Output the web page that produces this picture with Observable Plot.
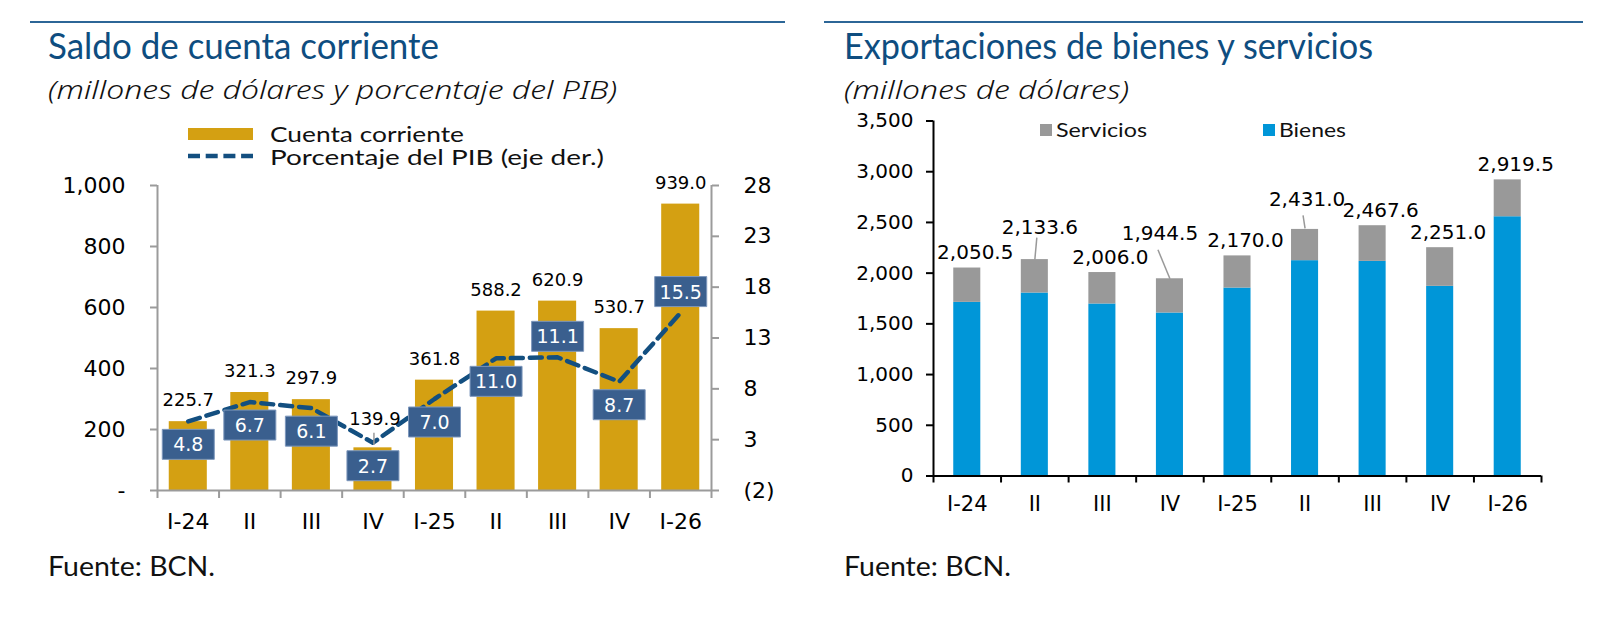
<!DOCTYPE html>
<html><head><meta charset="utf-8">
<script src="https://cdn.jsdelivr.net/npm/d3@7"></script>
<script src="https://cdn.jsdelivr.net/npm/@observablehq/plot@0.6"></script>
<style>
html,body{margin:0;padding:0;background:#fff;}
body{position:relative;width:1604px;height:636px;overflow:hidden;font-family:Lato,"Noto Sans",sans-serif;color:#111;}
.t{position:absolute;white-space:nowrap;line-height:1;transform-origin:0 0;}
.rule{position:absolute;height:2px;background:#2C6697;}
.chart{position:absolute;}
.sw{position:absolute;}
</style></head><body>
<script>
// ---------- data ----------
const quarters = ["I-24", "II", "III", "IV", "I-25", "II", "III", "IV", "I-26"];
const cuentaCorriente = [225.7, 321.3, 297.9, 139.9, 361.8, 588.2, 620.9, 530.7, 939.0];
const porcentajePIB = [4.8, 6.7, 6.1, 2.7, 7.0, 11.0, 11.1, 8.7, 15.5];
const exportTotal = [2050.5, 2133.6, 2006.0, 1944.5, 2170.0, 2431.0, 2467.6, 2251.0, 2919.5];
const exportBienes = [1712, 1804, 1696, 1607, 1853, 2123, 2116, 1870, 2556];
const exportServicios = [338.5, 329.6, 310.0, 337.5, 317.0, 308.0, 351.6, 381.0, 363.5];
const ccTicks = [0, 200, 400, 600, 800, 1000];
const pibTicks = [-2, 3, 8, 13, 18, 23, 28];
const expTicks = [0, 500, 1000, 1500, 2000, 2500, 3000, 3500];

// ---------- helpers ----------
const body = document.body;
function txt(s, o) {
  const d = document.createElement("div");
  d.className = "t"; d.textContent = s;
  const f = o.font || "Lato";
  const asc = f.startsWith("DejaVu") ? 0.846 : (f.startsWith("Noto") ? 0.93 : 0.887);
  Object.assign(d.style, {
    left: o.x + "px", top: (o.base - asc * o.size) + "px", fontSize: o.size + "px",
    fontFamily: f, color: o.color || "#111", fontStyle: o.italic ? "italic" : "normal",
    fontWeight: o.weight || 400
  });
  body.appendChild(d);
  if (o.w) { const w = d.getBoundingClientRect().width; d.style.transform = `scaleX(${o.w / w})`; }
  return d;
}
function rule(x1, x2, y) {
  const d = document.createElement("div"); d.className = "rule";
  Object.assign(d.style, {left: x1 + "px", width: (x2 - x1) + "px", top: y + "px"});
  body.appendChild(d);
}
function place(svg, x, y) { svg.classList.add("chart"); svg.style.left = x + "px"; svg.style.top = y + "px"; body.appendChild(svg); }

const gold = "#D4A012", lineBlue = "#134F80", boxBlue = "#3A5F8E", axisGray = "#9B9B9B";
const bienesBlue = "#0096D8", servGray = "#999999";
const titleBlue = "#0E4D80";

// ---------- left panel ----------
rule(30, 785, 21);
txt("Saldo de cuenta corriente", {x: 48, base: 58.5, size: 36, color: titleBlue, w: 391});
txt("(millones de dólares y porcentaje del PIB)", {x: 48, base: 100, size: 26, italic: true, font: "Noto Sans", weight: 300, w: 569});
{
  const r = document.createElement("div"); r.className = "sw";
  Object.assign(r.style, {left: "188px", top: "128px", width: "65px", height: "12px", background: gold});
  body.appendChild(r);
  const s = document.createElementNS("http://www.w3.org/2000/svg", "svg");
  s.setAttribute("width", 70); s.setAttribute("height", 10);
  Object.assign(s.style, {position: "absolute", left: "188px", top: "151px"});
  s.innerHTML = `<line x1="0" x2="65" y1="5" y2="5" stroke="${lineBlue}" stroke-width="4.5" stroke-dasharray="12,5.7"/>`;
  body.appendChild(s);
}
txt("Cuenta corriente", {x: 270, base: 141.5, size: 21, w: 194});
txt("Porcentaje del PIB (eje der.)", {x: 270, base: 164.5, size: 21, w: 334});
txt("Fuente: BCN.", {x: 48, base: 576.5, size: 26, w: 167});

const idx = d3.range(quarters.length);
const cc = idx.map(i => ({i, v: cuentaCorriente[i], p: porcentajePIB[i]}));
const toLeft = p => (p + 2) / 30 * 1000;
const fromLeft = v => Math.round(v / 1000 * 30 - 2);
const box = {draw(c) { c.moveTo(-26, -15); c.lineTo(26, -15); c.lineTo(26, 15); c.lineTo(-26, 15); c.closePath(); }};
const lead = (x1, y1, x2, y2) => ({draw(c) { c.moveTo(x1, y1); c.lineTo(x2, y2); }});
const above = new Set([6, 8]);
const xc = d => d.i + 0.5;

const leftChart = Plot.plot({
  width: 800, height: 390, marginLeft: 157, marginRight: 89, marginTop: 35, marginBottom: 50,
  x: {type: "linear", domain: [0, 9]},
  y: {domain: [0, 1000]},
  style: {fontFamily: "DejaVu Sans", fontSize: "22px", color: "#000", background: "transparent", overflow: "visible"},
  marks: [
    Plot.rectY(cc, {x1: d => d.i, x2: d => d.i + 1, y: "v", fill: gold, insetLeft: 11.75, insetRight: 11.75}),
    Plot.axisY({anchor: "left", label: null, ticks: ccTicks, tickSize: 7, tickPadding: 25, stroke: axisGray, strokeWidth: 2, fill: "#000", fontSize: 22,
      tickFormat: v => v === 0 ? "-" : d3.format(",")(v)}),
    Plot.axisY({anchor: "right", label: null, ticks: pibTicks.map(toLeft), tickSize: 7, tickPadding: 25, stroke: axisGray, strokeWidth: 2, fill: "#000", fontSize: 22,
      tickFormat: v => { const p = fromLeft(v); return p < 0 ? `(${-p})` : `${p}`; }}),
    Plot.axisX({label: null, ticks: d3.range(10), tickSize: 8, tickFormat: () => "", stroke: axisGray, strokeWidth: 2}),
    Plot.axisX({label: null, ticks: idx.map(i => i + 0.5), tickSize: 0, tickPadding: 23, fill: "#000", fontSize: 22, tickFormat: v => quarters[Math.floor(v)]}),
    Plot.ruleX([0, 9], {stroke: axisGray, strokeWidth: 2}),
    Plot.ruleY([0], {stroke: axisGray, strokeWidth: 2}),
    Plot.line(cc, {x: xc, y: d => toLeft(d.p), stroke: lineBlue, strokeWidth: 4.5, strokeDasharray: "12,7"}),
    Plot.dot(cc.filter(d => d.i === 3), {x: xc, y: "v", symbol: lead(1, -3, 1, -15), fill: "none", stroke: "#999", strokeWidth: 1.5}),
    Plot.text(cc.filter(d => d.i !== 3), {x: xc, y: "v", text: d => d.v.toFixed(1), dy: -21, fontSize: 18, fill: "#000"}),
    Plot.text(cc.filter(d => d.i === 3), {x: xc, y: "v", text: d => d.v.toFixed(1), dy: -29, dx: 2, fontSize: 18, fill: "#000"}),
    Plot.dot(cc.filter(d => !above.has(d.i)), {x: xc, y: d => toLeft(d.p), symbol: box, r: 5, fill: boxBlue, stroke: "#7D97BC", strokeWidth: 1, dy: 23}),
    Plot.dot(cc.filter(d => above.has(d.i)), {x: xc, y: d => toLeft(d.p), symbol: box, r: 5, fill: boxBlue, stroke: "#7D97BC", strokeWidth: 1, dy: -21}),
    Plot.text(cc.filter(d => !above.has(d.i)), {x: xc, y: d => toLeft(d.p), text: d => d.p.toFixed(1), fill: "#fff", fontSize: 19, dy: 24}),
    Plot.text(cc.filter(d => above.has(d.i)), {x: xc, y: d => toLeft(d.p), text: d => d.p.toFixed(1), fill: "#fff", fontSize: 19, dy: -20})
  ]
});
place(leftChart, 0, 150);

// ---------- right panel ----------
rule(824, 1583, 21);
txt("Exportaciones de bienes y servicios", {x: 844, base: 58.5, size: 36, color: titleBlue, w: 529});
txt("(millones de dólares)", {x: 844, base: 100, size: 26, italic: true, font: "Noto Sans", weight: 300, w: 285});
{
  const a = document.createElement("div"); a.className = "sw";
  Object.assign(a.style, {left: "1040px", top: "124px", width: "12px", height: "12px", background: servGray});
  body.appendChild(a);
  const b = document.createElement("div"); b.className = "sw";
  Object.assign(b.style, {left: "1263px", top: "124px", width: "12px", height: "12px", background: bienesBlue});
  body.appendChild(b);
}
txt("Servicios", {x: 1056, base: 136.5, size: 19, w: 91});
txt("Bienes", {x: 1279, base: 136.5, size: 19, w: 67});
txt("Fuente: BCN.", {x: 844, base: 576.5, size: 26, w: 167});

const ex = idx.map(i => ({i, b: exportBienes[i], s: exportServicios[i], t: exportTotal[i]}));
const raised = new Set([1, 3, 5]);
const rightChart = Plot.plot({
  width: 804, height: 440, marginLeft: 133, marginRight: 63, marginTop: 20.5, marginBottom: 64.5,
  x: {type: "linear", domain: [0, 9]},
  y: {domain: [0, 3500]},
  style: {fontFamily: "DejaVu Sans", fontSize: "20px", color: "#000", background: "transparent", overflow: "visible"},
  marks: [
    Plot.rect(ex, {x1: d => d.i, x2: d => d.i + 1, y1: d => 0, y2: "b", fill: bienesBlue, insetLeft: 20.25, insetRight: 20.25}),
    Plot.rect(ex, {x1: d => d.i, x2: d => d.i + 1, y1: "b", y2: d => d.b + d.s, fill: servGray, insetLeft: 20.25, insetRight: 20.25}),
    Plot.axisY({label: null, ticks: expTicks, tickSize: 7, tickPadding: 13, stroke: "#000", strokeWidth: 2, fontSize: 20, tickFormat: d3.format(",")}),
    Plot.axisX({label: null, ticks: d3.range(10), tickSize: 7, tickFormat: () => "", stroke: "#000", strokeWidth: 2}),
    Plot.axisX({label: null, ticks: idx.map(i => i + 0.5), tickSize: 0, tickPadding: 20, fontSize: 21, tickFormat: v => quarters[Math.floor(v)]}),
    Plot.ruleX([0], {stroke: "#000", strokeWidth: 2}),
    Plot.ruleY([0], {stroke: "#000", strokeWidth: 2}),
    Plot.dot(ex.filter(d => d.i === 1), {x: xc, y: "t", symbol: lead(0, 0, 2, -22), fill: "none", stroke: "#999", strokeWidth: 1.5}),
    Plot.dot(ex.filter(d => d.i === 3), {x: xc, y: "t", symbol: lead(0, 0, -12, -29), fill: "none", stroke: "#999", strokeWidth: 1.5}),
    Plot.dot(ex.filter(d => d.i === 5), {x: xc, y: "t", symbol: lead(0, -1, -2, -14), fill: "none", stroke: "#999", strokeWidth: 1.5}),
    Plot.text(ex.filter(d => !raised.has(d.i)), {x: xc, y: "t", text: d => d3.format(",.1f")(d.t), dy: -15, dx: 8, fontSize: 20, fill: "#000"}),
    Plot.text(ex.filter(d => d.i === 1), {x: xc, y: "t", text: d => d3.format(",.1f")(d.t), dy: -32, dx: 5, fontSize: 20, fill: "#000"}),
    Plot.text(ex.filter(d => d.i === 3), {x: xc, y: "t", text: d => d3.format(",.1f")(d.t), dy: -45, dx: -10, fontSize: 20, fill: "#000"}),
    Plot.text(ex.filter(d => d.i === 5), {x: xc, y: "t", text: d => d3.format(",.1f")(d.t), dy: -30, dx: 2, fontSize: 20, fill: "#000"})
  ]
});
place(rightChart, 800, 100);
</script>
</body></html>
